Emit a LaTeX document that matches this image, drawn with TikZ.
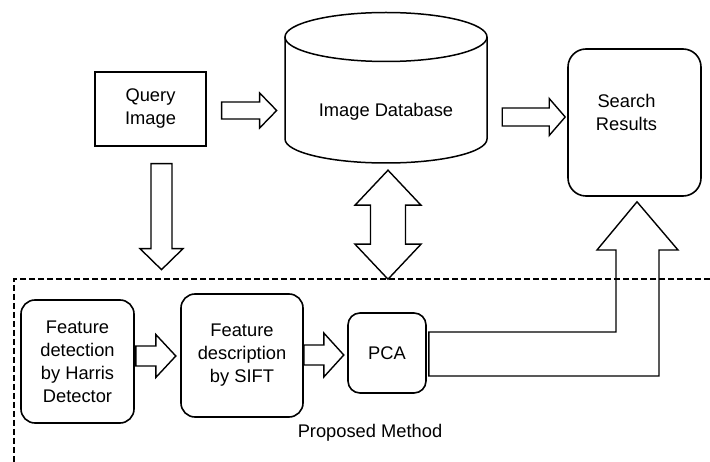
\documentclass[tikz,border=0pt]{standalone}
\usepackage{fontspec}
\setmainfont{Liberation Sans}
\usetikzlibrary{calc}

% block arrow: start, angle, length, shaft width, head width, head length
\newcommand{\blockarrow}[6]{%
\draw [blk,shift={#1},rotate=#2] (0,-#4/2) -- (#3-#6,-#4/2) -- (#3-#6,-#5/2) -- (#3,0) -- (#3-#6,#5/2) -- (#3-#6,#4/2) -- (0,#4/2) -- cycle ;}

\begin{document}
\begin{tikzpicture}[x=1pt,y=1pt,yscale=-1,xscale=1,
  every node/.style={font=\fontsize{18.3}{23}\selectfont,align=center,inner sep=0pt},
  box/.style n args={2}{draw,line width=1.3pt,minimum width=#1pt,minimum height=#2pt},
  rbox/.style n args={2}{box={#1}{#2},line width=1.6pt,rounded corners=14pt},
  blk/.style={draw,line width=1.4pt,line join=miter},
  cyl/.style={line width=1.5pt},
  region/.style={line width=1.2pt,dash pattern={on 6pt off 3pt}}]
\useasboundingbox (0,0) rectangle (710,462);
% Top row
\node [box={111}{74}] (query) at (150.5,109) {Query\\Image};
\node [minimum width=202pt,minimum height=150pt] (db) at (386,88) {};
\node (dblabel) at (386,112) {Image Database};
\node [rbox={133}{147},rounded corners=18pt] (search) at (634.5,122.5) {};
\node (searchlabel) at ($(search.center)+(-8,-10)$) {Search\\Results};
% Cylinder
\draw [cyl] (285,37) -- (285,139) arc[start angle=180,end angle=0,x radius=101,y radius=24] -- (487,37) ;
\draw [cyl] (386,37) ellipse[x radius=101,y radius=24.5] ;
% Proposed method
\node [rbox={113}{123}] (detect) at (77.5,361.5) {Feature\\detection\\by Harris\\Detector};
\node [rbox={122}{123}] (describe) at (242,355.5) {Feature\\description\\by SIFT};
\node [rbox={78}{80},rounded corners=12pt] (pca) at (387,353) {PCA};
\node (method) at (370,433) {Proposed Method};
\draw [region] (710,279) -- (14,279) -- (14,462) ;
% Block arrows
\blockarrow{($(query.east)+(15,1.5)$)}{0}{55}{17}{35}{17}
\blockarrow{($(db.east)+(15,29)$)}{0}{63}{18}{37}{16}
\blockarrow{($(query.south)+(11,17)$)}{90}{106}{21}{43}{21}
\blockarrow{($(detect.east)+(1,-5.5)$)}{0}{40}{20}{43}{20}
\blockarrow{($(describe.east)+(0,-0.5)$)}{0}{40}{20}{44}{20}
\draw [blk,shift={($(db.south)+(2,7)$)},rotate=90] (0,0) -- (35,-33) -- (35,-17.5) -- (74,-17.5) -- (74,-33) -- (109,0) -- (74,33) -- (74,17.5) -- (35,17.5) -- (35,33) -- cycle ;
\draw [blk] ($(pca.east)+(2,-21)$) -- (616,332) -- (616,250) -- (597,250) -- ($(search.south)+(2.5,5)$) -- (678,250) -- (659,250) -- (659,376) -- ($(pca.east)+(2,23)$) -- cycle ;
\end{tikzpicture}
\end{document}
